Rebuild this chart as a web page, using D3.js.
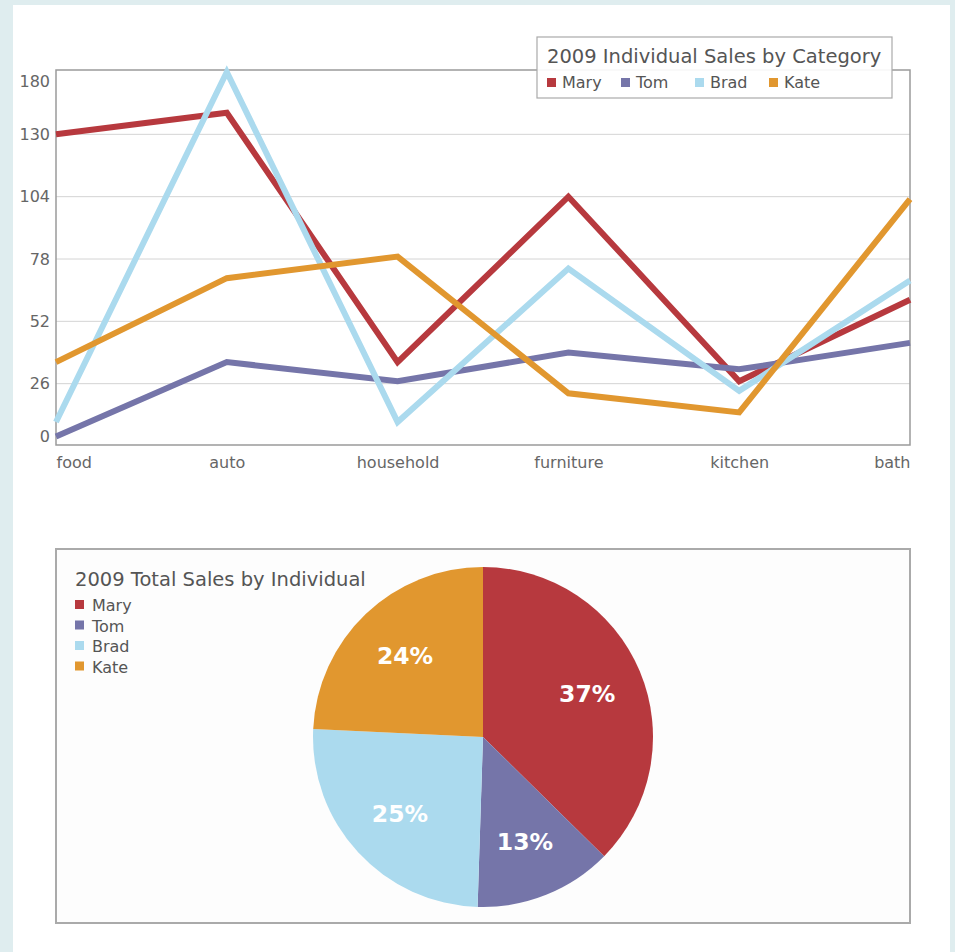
<html>
  <head>
    <style>
      body { margin: 0; background: #dfedef; }
      #page { position: absolute; left: 13px; top: 5px; width: 937px; height: 947px; background: #fff; }
      svg { position: absolute; left: 0; top: 0; }
      text { font-family: "DejaVu Sans", Verdana, sans-serif; }
      .tick text { fill: #666; font-size: 16px; }
      .grid line { stroke: #d4d4d4; stroke-width: 1; }
    </style>
  </head>
  <body>
    <div id="page"></div>
    <svg id="chart" width="955" height="952"></svg>
    <script src="https://d3js.org/d3.v7.min.js"></script>
    <script>
      // values
      var categories = ["food", "auto", "household", "furniture", "kitchen", "bath"];
      var people = ["Mary", "Tom", "Brad", "Kate"];
      var mary = [130, 139, 35, 104, 27, 61];
      var tom = [4, 35, 27, 39, 32, 43];
      var brad = [10, 156, 10, 74, 23, 69];
      var kate = [35, 70, 79, 22, 14, 103];
      var yTicks = [0, 26, 52, 78, 104, 130, 156];
      var yTickLabels = ["0", "26", "52", "78", "104", "130", "180"];
      var pieShares = [37, 13, 25, 24];
      var colors = ["#b7393e", "#7575a9", "#abdaee", "#e1972f"];

      var series = [mary, tom, brad, kate];
      var svg = d3.select("#chart");

      // ---- line chart ----
      var x = d3.scalePoint().domain(categories).range([56, 910]);
      var y = d3.scaleLinear().domain([0, 156]).range([446, 72]);

      var grid = svg.append("g").attr("class", "grid");
      grid.selectAll("line")
          .data(yTicks.slice(1, -1))
          .enter()
          .append("line")
          .attr("x1", 56).attr("x2", 910)
          .attr("y1", function(d) { return y(d); })
          .attr("y2", function(d) { return y(d); });

      svg.append("rect")
          .attr("x", 56).attr("y", 70)
          .attr("width", 854).attr("height", 375)
          .attr("fill", "none")
          .attr("stroke", "#9a9a9a")
          .attr("stroke-width", 1.5);

      var yAxis = svg.append("g")
          .attr("transform", "translate(50,0)")
          .call(d3.axisLeft(y).tickValues(yTicks).tickSize(0).tickPadding(0)
              .tickFormat(function(d, i) { return yTickLabels[i]; }));
      yAxis.select(".domain").remove();
      yAxis.selectAll(".tick text")
          .attr("dy", function(d, i) {
              if (i == 0) return "-0.3em";
              if (i == yTicks.length - 1) return "0.9em";
              return "0.32em";
          });

      var xAxis = svg.append("g")
          .attr("transform", "translate(0,454)")
          .call(d3.axisBottom(x).tickSize(0).tickPadding(0));
      xAxis.select(".domain").remove();
      xAxis.selectAll(".tick text")
          .attr("dy", "0.9em")
          .attr("text-anchor", function(d, i) {
              if (i == 0) return "start";
              if (i == categories.length - 1) return "end";
              return "middle";
          });

      var line = d3.line()
          .x(function(d, i) { return x(categories[i]); })
          .y(function(d) { return y(d); });

      svg.append("g").selectAll("path")
          .data(series)
          .enter()
          .append("path")
          .attr("d", line)
          .attr("fill", "none")
          .attr("stroke", function(d, i) { return colors[i]; })
          .attr("stroke-width", 6)
          .attr("stroke-linejoin", "miter")
          .attr("stroke-miterlimit", 10);

      // legend box
      var lg = svg.append("g");
      lg.append("rect")
          .attr("x", 537).attr("y", 37)
          .attr("width", 355).attr("height", 61)
          .attr("fill", "#fff").attr("fill-opacity", 0.92)
          .attr("stroke", "#aaa").attr("stroke-width", 1.2);
      lg.append("text")
          .attr("x", 547).attr("y", 63)
          .attr("fill", "#555").attr("font-size", 19.5)
          .text("2009 Individual Sales by Category");
      var items = lg.selectAll(".item")
          .data(people)
          .enter()
          .append("g")
          .attr("transform", function(d, i) { return "translate(" + (547 + i * 74) + ",0)"; });
      items.append("rect")
          .attr("x", 0).attr("y", 78).attr("width", 9).attr("height", 9)
          .attr("fill", function(d, i) { return colors[i]; });
      items.append("text")
          .attr("x", 15).attr("y", 88)
          .attr("fill", "#555").attr("font-size", 16)
          .text(function(d) { return d; });

      // ---- pie chart ----
      svg.append("rect")
          .attr("x", 56).attr("y", 549)
          .attr("width", 854).attr("height", 374)
          .attr("fill", "#fdfdfd")
          .attr("stroke", "#aaa").attr("stroke-width", 2);

      var cx = 483, cy = 737, radius = 170;
      var pie = d3.pie().sort(null);
      var arc = d3.arc().innerRadius(0).outerRadius(radius);
      var labelArc = d3.arc().innerRadius(113).outerRadius(113);

      var pg = svg.append("g").attr("transform", "translate(" + cx + "," + cy + ")");
      var slices = pg.selectAll(".slice")
          .data(pie(pieShares))
          .enter()
          .append("g");
      slices.append("path")
          .attr("d", arc)
          .attr("fill", function(d, i) { return colors[i]; });
      slices.append("text")
          .attr("transform", function(d) { return "translate(" + labelArc.centroid(d) + ")"; })
          .attr("text-anchor", "middle")
          .attr("dy", "0.36em")
          .attr("fill", "#fff")
          .attr("font-size", 23.5)
          .attr("font-weight", "bold")
          .text(function(d) { return d.data + "%"; });

      var pl = svg.append("g");
      pl.append("text")
          .attr("x", 75).attr("y", 586)
          .attr("fill", "#555").attr("font-size", 19.5)
          .text("2009 Total Sales by Individual");
      var pitems = pl.selectAll(".pitem")
          .data(people)
          .enter()
          .append("g")
          .attr("transform", function(d, i) { return "translate(75," + (605 + i * 20.5) + ")"; });
      pitems.append("rect")
          .attr("x", 0).attr("y", -5).attr("width", 9).attr("height", 9)
          .attr("fill", function(d, i) { return colors[i]; });
      pitems.append("text")
          .attr("x", 17).attr("y", 6)
          .attr("fill", "#555").attr("font-size", 16)
          .text(function(d) { return d; });
    </script>
  </body>
</html>
